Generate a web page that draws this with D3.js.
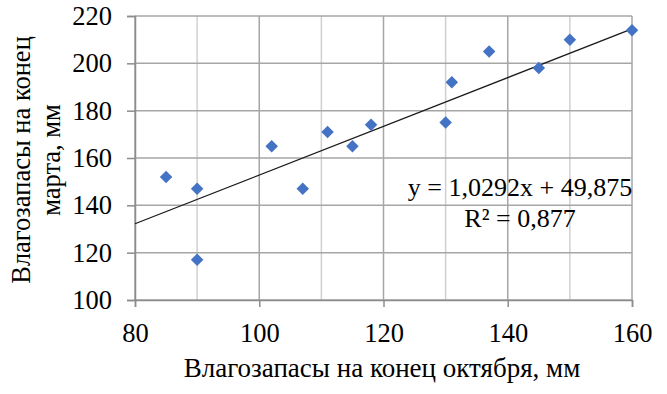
<!DOCTYPE html>
<html>
<head>
<meta charset="utf-8">
<script src="https://cdn.jsdelivr.net/npm/d3@7"></script>
<style>
  body { margin: 0; background: #fff; }
</style>
</head>
<body>
<div id="chart"></div>
<script>
//Data
const octStores = [85, 90, 90, 102, 107, 111, 115, 118, 130, 131, 137, 145, 150, 160];
const marStores = [152, 147, 117, 165, 147, 171, 165, 174, 175, 192, 205, 198, 210, 214];
const xTicks = [80, 100, 120, 140, 160];
const xMinor = [90, 110, 130, 150];
const yTicks = [100, 120, 140, 160, 180, 200, 220];
const slope = 1.0292, intercept = 49.875;
const eqLines = ["y = 1,0292x + 49,875", "R² = 0,877"];

//Dimensions
const width = 667;
const height = 394;
const margin = { top: 16, right: 35, bottom: 94, left: 135 };
const serif = "Liberation Serif";

const svg = d3.select("#chart").append("svg").attr("width", width).attr("height", height);

const x = d3.scaleLinear().domain([80, 160]).range([margin.left, width - margin.right]);
const y = d3.scaleLinear().domain([100, 220]).range([height - margin.bottom, margin.top]);

//Minor vertical grid
svg.append("g").selectAll("line").data(xMinor).enter().append("line")
    .attr("x1", d => x(d)).attr("x2", d => x(d))
    .attr("y1", y(100)).attr("y2", y(220))
    .attr("stroke", "#d0d0d0").attr("stroke-width", 1.5);

//Major vertical grid
svg.append("g").selectAll("line").data(xTicks).enter().append("line")
    .attr("x1", d => x(d)).attr("x2", d => x(d))
    .attr("y1", y(100)).attr("y2", y(220))
    .attr("stroke", "#a6a6a6").attr("stroke-width", 1.5);

//Horizontal grid
svg.append("g").selectAll("line").data(yTicks).enter().append("line")
    .attr("x1", x(80)).attr("x2", x(160))
    .attr("y1", d => y(d)).attr("y2", d => y(d))
    .attr("stroke", "#a6a6a6").attr("stroke-width", 1.5);

//Axes
const xAxis = svg.append("g").attr("transform", `translate(0, ${y(100)})`)
    .call(d3.axisBottom(x).tickValues(xTicks).tickSize(7).tickPadding(16));
const yAxis = svg.append("g").attr("transform", `translate(${x(80)}, 0)`)
    .call(d3.axisLeft(y).tickValues(yTicks).tickSize(8).tickPadding(15));
[xAxis, yAxis].forEach(a => {
    a.attr("font-family", serif).attr("font-size", 26.5);
    a.select(".domain").attr("stroke", "#8c8c8c").attr("stroke-width", 1.5);
    a.selectAll(".tick line").attr("stroke", "#8c8c8c").attr("stroke-width", 1.5);
    a.selectAll("text").attr("fill", "#000")
        .style("font-family", serif).style("font-size", "26.5px");
});

//Trend line
svg.append("line")
    .attr("x1", x(80)).attr("y1", y(slope * 80 + intercept))
    .attr("x2", x(160)).attr("y2", y(slope * 160 + intercept))
    .attr("stroke", "#1a1a1a").attr("stroke-width", 1.3);

//Points
svg.append("g").selectAll("path").data(octStores).enter().append("path")
    .attr("d", d3.symbol(d3.symbolSquare, 78))
    .attr("transform", (d, i) => `translate(${x(d)}, ${y(marStores[i])}) rotate(45)`)
    .attr("fill", "#4472c4");

//Equation label
svg.append("g").selectAll("text").data(eqLines).enter().append("text")
    .attr("x", 520).attr("y", (d, i) => 196 + i * 31)
    .attr("text-anchor", "middle").attr("font-family", serif).attr("font-size", 26)
    .text(d => d);

//Axis titles
svg.append("text").attr("x", 382).attr("y", 377).attr("text-anchor", "middle")
    .attr("font-family", serif).attr("font-size", 27).text("Влагозапасы на конец октября, мм");
const yt = svg.append("text").attr("transform", `translate(30, 160) rotate(-90)`)
    .attr("text-anchor", "middle").attr("font-family", serif).attr("font-size", 26.5);
yt.append("tspan").attr("x", 0).attr("dy", 0).text("Влагозапасы на конец");
yt.append("tspan").attr("x", 0).attr("dy", 30).text("марта, мм");
</script>
</body>
</html>
